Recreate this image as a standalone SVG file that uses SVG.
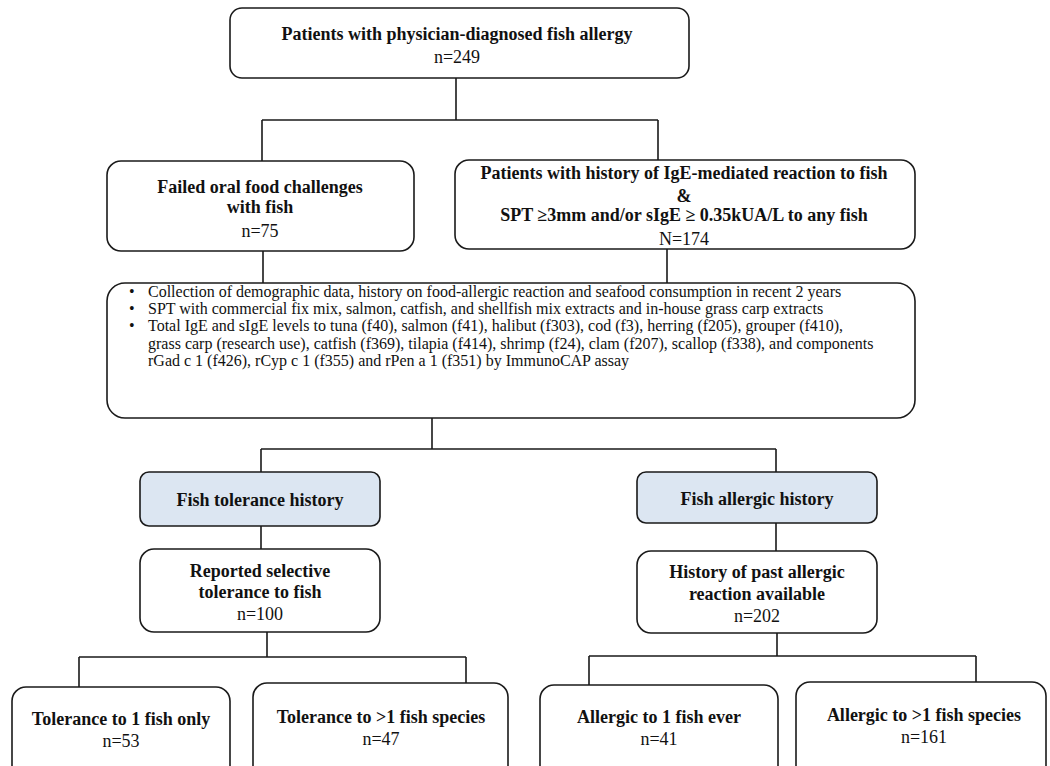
<svg xmlns="http://www.w3.org/2000/svg" width="1050" height="766" viewBox="0 0 1050 766">
<style>
.box{fill:#fff;stroke:#1a1a1a;stroke-width:1.6}
.hl{fill:#dce6f2;stroke:#1a1a1a;stroke-width:1.6}
.b{font-family:"Liberation Serif",serif;font-weight:bold;font-size:18px;fill:#111;text-anchor:middle}
.n{font-family:"Liberation Serif",serif;font-size:18px;fill:#111;text-anchor:middle}
.t{font-family:"Liberation Serif",serif;font-size:16px;fill:#111}
.c{fill:none;stroke:#1a1a1a;stroke-width:1.6}
</style>
<rect width="1050" height="766" fill="#fff"/>
<g id="connectors">
<path class="c" d="M456 78V120M262 120H658M262 120V161M658 120V160"/>
<path class="c" d="M263 251V283M667 249V283"/>
<path class="c" d="M432 418V449M261 449H776M261 449V472M776 449V472"/>
<path class="c" d="M261 526V549M776 523V551"/>
<path class="c" d="M267 632V657M79 657H466M79 657V687M466 657V683"/>
<path class="c" d="M777 633V656M589 656H976M589 656V685M976 656V682"/>
</g>
<g id="top">
<rect class="box" x="230" y="8" width="459" height="70" rx="12"/>
<text class="b" x="457" y="40">Patients with physician-diagnosed fish allergy</text>
<text class="n" x="457" y="63">n=249</text>
</g>
<g id="failed">
<rect class="box" x="107" y="161" width="307" height="90" rx="14"/>
<text class="b" x="260" y="193">Failed oral food challenges</text>
<text class="b" x="260" y="213">with fish</text>
<text class="n" x="260" y="237">n=75</text>
</g>
<g id="history">
<rect class="box" x="455" y="160" width="460" height="89" rx="14"/>
<text class="b" x="684" y="179">Patients with history of IgE-mediated reaction to fish</text>
<text class="b" x="684" y="202">&amp;</text>
<text class="b" x="684" y="221">SPT ≥3mm and/or sIgE ≥ 0.35kUA/L to any fish</text>
<text class="n" x="684" y="245">N=174</text>
</g>
<g id="methods">
<rect class="box" x="107" y="283" width="808" height="135" rx="18"/>
<text class="t" x="129" y="297">•</text>
<text class="t" x="129" y="314">•</text>
<text class="t" x="129" y="331">•</text>
<text class="t" x="148" y="297">Collection of demographic data, history on food-allergic reaction and seafood consumption in recent 2 years</text>
<text class="t" x="148" y="314">SPT with commercial fix mix, salmon, catfish, and shellfish mix extracts and in-house grass carp extracts</text>
<text class="t" x="148" y="331">Total IgE and sIgE levels to tuna (f40), salmon (f41), halibut (f303), cod (f3), herring (f205), grouper (f410),</text>
<text class="t" x="148" y="349">grass carp (research use), catfish (f369), tilapia (f414), shrimp (f24), clam (f207), scallop (f338), and components</text>
<text class="t" x="148" y="366">rGad c 1 (f426), rCyp c 1 (f355) and rPen a 1 (f351) by ImmunoCAP assay</text>
</g>
<g id="tolerance">
<rect class="hl" x="140" y="472" width="240" height="54" rx="9"/>
<text class="b" x="260" y="506">Fish tolerance history</text>
</g>
<g id="allergic">
<rect class="hl" x="637" y="472" width="240" height="51" rx="9"/>
<text class="b" x="757" y="505">Fish allergic history</text>
</g>
<g id="selective">
<rect class="box" x="140" y="549" width="240" height="83" rx="14"/>
<text class="b" x="260" y="577">Reported selective</text>
<text class="b" x="260" y="598">tolerance to fish</text>
<text class="n" x="260" y="620">n=100</text>
</g>
<g id="past">
<rect class="box" x="637" y="551" width="240" height="82" rx="14"/>
<text class="b" x="757" y="578">History of past allergic</text>
<text class="b" x="757" y="600">reaction available</text>
<text class="n" x="757" y="622">n=202</text>
</g>
<g id="tol1">
<rect class="box" x="12" y="687" width="218" height="100" rx="14"/>
<text class="b" x="121" y="725">Tolerance to 1 fish only</text>
<text class="n" x="121" y="747">n=53</text>
</g>
<g id="tolmany">
<rect class="box" x="253" y="683" width="255" height="100" rx="14"/>
<text class="b" x="381" y="723">Tolerance to &gt;1 fish species</text>
<text class="n" x="381" y="745">n=47</text>
</g>
<g id="all1">
<rect class="box" x="540" y="685" width="238" height="100" rx="14"/>
<text class="b" x="659" y="723">Allergic to 1 fish ever</text>
<text class="n" x="659" y="745">n=41</text>
</g>
<g id="allmany">
<rect class="box" x="796" y="682" width="250" height="100" rx="14"/>
<text class="b" x="924" y="721">Allergic to &gt;1 fish species</text>
<text class="n" x="924" y="743">n=161</text>
</g>
</svg>
